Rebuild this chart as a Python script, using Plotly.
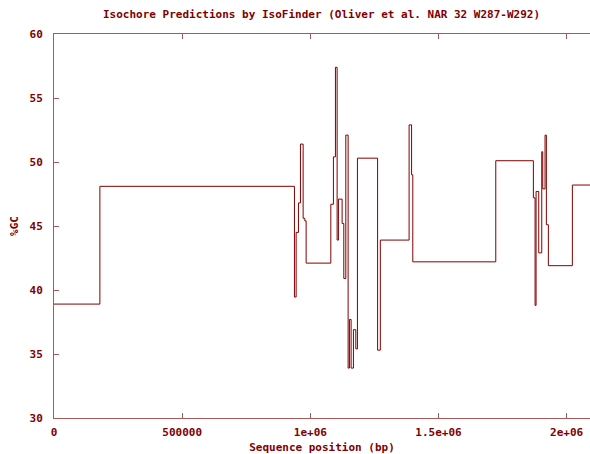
import plotly.graph_objects as go

# Isochore segment boundaries (start position, bp) and their mean %GC
seg_start = [
    0, 179000, 938000, 944600, 953600, 961400, 971900, 978500, 983600,
    1079900, 1090000, 1097900, 1104500, 1109600, 1124000, 1130600, 1138400,
    1147400, 1152500, 1159100, 1168100, 1177400, 1183700, 1262400, 1273000,
    1385300, 1395000, 1399700, 1723400, 1870100, 1876700, 1880600, 1891100,
    1902800, 1906700, 1915700, 1920800, 1928600, 2022200,
]
seg_gc = [
    38.9, 48.1, 39.45, 44.5, 46.8, 51.4, 45.6, 45.4, 42.1,
    46.7, 50.4, 57.4, 43.9, 47.1, 45.2, 40.9, 52.1,
    33.9, 37.7, 33.9, 36.9, 35.4, 50.3, 35.3, 43.9,
    52.9, 49.0, 42.2, 50.1, 47.2, 38.8, 47.7, 42.9,
    50.8, 47.9, 52.1, 45.1, 41.9, 48.2,
]
seq_end = 2110000

x_ticks = [0, 500000, 1000000, 1500000, 2000000]
x_tick_labels = ["0", "500000", "1e+06", "1.5e+06", "2e+06"]
y_ticks = [30, 35, 40, 45, 50, 55, 60]

dark = "#800000"
axis_col = "#a85858"
font = dict(family="DejaVu Sans Mono", size=11, color=dark, weight="bold")

xs = seg_start + [seq_end]
ys = seg_gc + [seg_gc[-1]]

fig = go.Figure()
fig.add_trace(go.Scatter(
    x=xs, y=ys, mode="lines", line_shape="hv",
    line=dict(color=dark, width=1), showlegend=False, hoverinfo="skip",
))

fig.update_layout(
    width=590, height=454,
    margin=dict(l=54, r=0, t=34, b=36),
    paper_bgcolor="white", plot_bgcolor="white",
    font=font,
    title=dict(
        text="Isochore Predictions by IsoFinder (Oliver et al. NAR 32 W287-W292)",
        x=0.545, xanchor="center", y=1 - 14 / 454, yanchor="middle",
        font=font,
    ),
    xaxis=dict(
        range=[0, 2091000], tickvals=x_ticks, ticktext=x_tick_labels,
        ticks="inside", ticklen=5, tickcolor=axis_col,
        showline=True, linecolor=axis_col, linewidth=1, mirror="ticks",
        showgrid=False, zeroline=False, tickfont=font,
        title=dict(text="Sequence position (bp)", font=font, standoff=7),
        ticklabelstandoff=4,
    ),
    yaxis=dict(
        range=[30, 60], tickvals=y_ticks,
        ticks="inside", ticklen=5, tickcolor=axis_col,
        showline=True, linecolor=axis_col, linewidth=1,
        showgrid=False, zeroline=False, tickfont=font,
        title=dict(text="%GC", font=font, standoff=8),
        ticklabelstandoff=8,
    ),
)

fig.write_html("out.html")
